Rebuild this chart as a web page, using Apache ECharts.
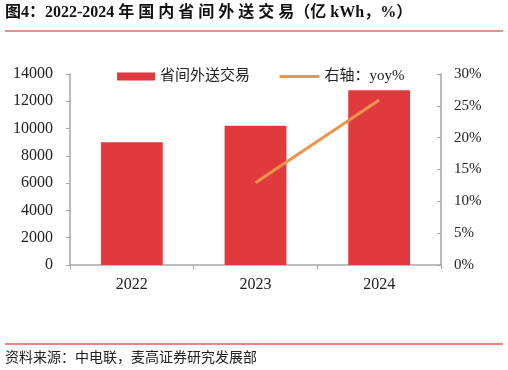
<!DOCTYPE html>
<html><head><meta charset="utf-8">
<script src="https://cdn.jsdelivr.net/npm/echarts@6/dist/echarts.min.js"></script>
<style>html,body{margin:0;padding:0;background:#fff}#c{width:508px;height:370px}</style>
</head><body><div id="c"></div>
<script>
const categories = ['2022', '2023', '2024'];
const tradeVolume = [9000, 10200, 12800];
const yoy = [null, 12.9, 25.9];
const leftTicks = [0, 14000, 2000];
const rightTicks = [0, 30, 5];
const titleText = '图4：2022-2024 年 国 内 省 间 外 送 交 易（亿 kWh，%）';
const sourceText = '资料来源：中电联，麦高证券研究发展部';
const seriesNames = ['省间外送交易', '右轴：yoy%'];

const FONT = '"Liberation Serif", "Noto Sans CJK SC", serif';
const legendText = {fontFamily: FONT, fontSize: 15, color: '#222'};
const chart = echarts.init(document.getElementById('c'), null, {renderer: 'canvas'});
chart.setOption({
  animation: false,
  backgroundColor: '#fff',
  textStyle: {fontFamily: FONT},
  grid: {left: 70, right: 67, top: 74, bottom: 105},
  legend: [{
    top: 69, left: 117, padding: 0, itemWidth: 38, itemHeight: 8,
    textStyle: legendText,
    data: [{name: seriesNames[0], icon: 'rect'}]
  }, {
    top: 69, left: 278, padding: 0, itemWidth: 40, itemHeight: 8,
    textStyle: legendText,
    data: [{name: seriesNames[1], itemStyle: {opacity: 0}, lineStyle: {width: 3, color: '#e8964b'}}]
  }],
  xAxis: {
    type: 'category', data: categories,
    axisLine: {lineStyle: {color: '#a6a6a6', width: 1.5}},
    axisTick: {show: true, alignWithLabel: false, length: 4, lineStyle: {color: '#a6a6a6'}},
    axisLabel: {fontSize: 16, color: '#222', margin: 12, fontFamily: FONT}
  },
  yAxis: [{
    type: 'value', min: leftTicks[0], max: leftTicks[1], interval: leftTicks[2],
    splitLine: {show: false},
    axisLine: {show: true, lineStyle: {color: '#a6a6a6', width: 1.5}},
    axisTick: {show: true, length: 4, lineStyle: {color: '#a6a6a6'}},
    axisLabel: {fontSize: 16, color: '#222', margin: 17, fontFamily: FONT, formatter: v => String(v)}
  }, {
    type: 'value', min: rightTicks[0], max: rightTicks[1], interval: rightTicks[2],
    splitLine: {show: false},
    axisLine: {show: true, lineStyle: {color: '#a6a6a6', width: 1.5}},
    axisTick: {show: true, inside: true, length: 4, lineStyle: {color: '#a6a6a6'}},
    axisLabel: {fontSize: 15, color: '#222', margin: 13, fontFamily: FONT, formatter: '{value}%'}
  }],
  series: [{
    name: seriesNames[0], type: 'bar', data: tradeVolume, barWidth: '50%',
    itemStyle: {color: '#e0393e'}
  }, {
    name: seriesNames[1], type: 'line', yAxisIndex: 1, data: yoy,
    showSymbol: false, symbol: 'none',
    lineStyle: {color: '#e8964b', width: 3},
    itemStyle: {color: '#e8964b'}
  }],
  graphic: [
    {type: 'text', left: 5, top: 5, style: {text: titleText, font: 'bold 16px "Liberation Serif", "Noto Sans CJK SC", serif', fill: '#111'}},
    {type: 'line', shape: {x1: 5, y1: 31, x2: 503, y2: 31}, style: {stroke: '#e06a6a', lineWidth: 1.5}},
    {type: 'line', shape: {x1: 5, y1: 344, x2: 503, y2: 344}, style: {stroke: '#e85a5a', lineWidth: 1.5}},
    {type: 'text', left: 5, top: 350, style: {text: sourceText, font: '14px "Noto Sans CJK SC", serif', fill: '#222'}}
  ]
});
</script></body></html>
